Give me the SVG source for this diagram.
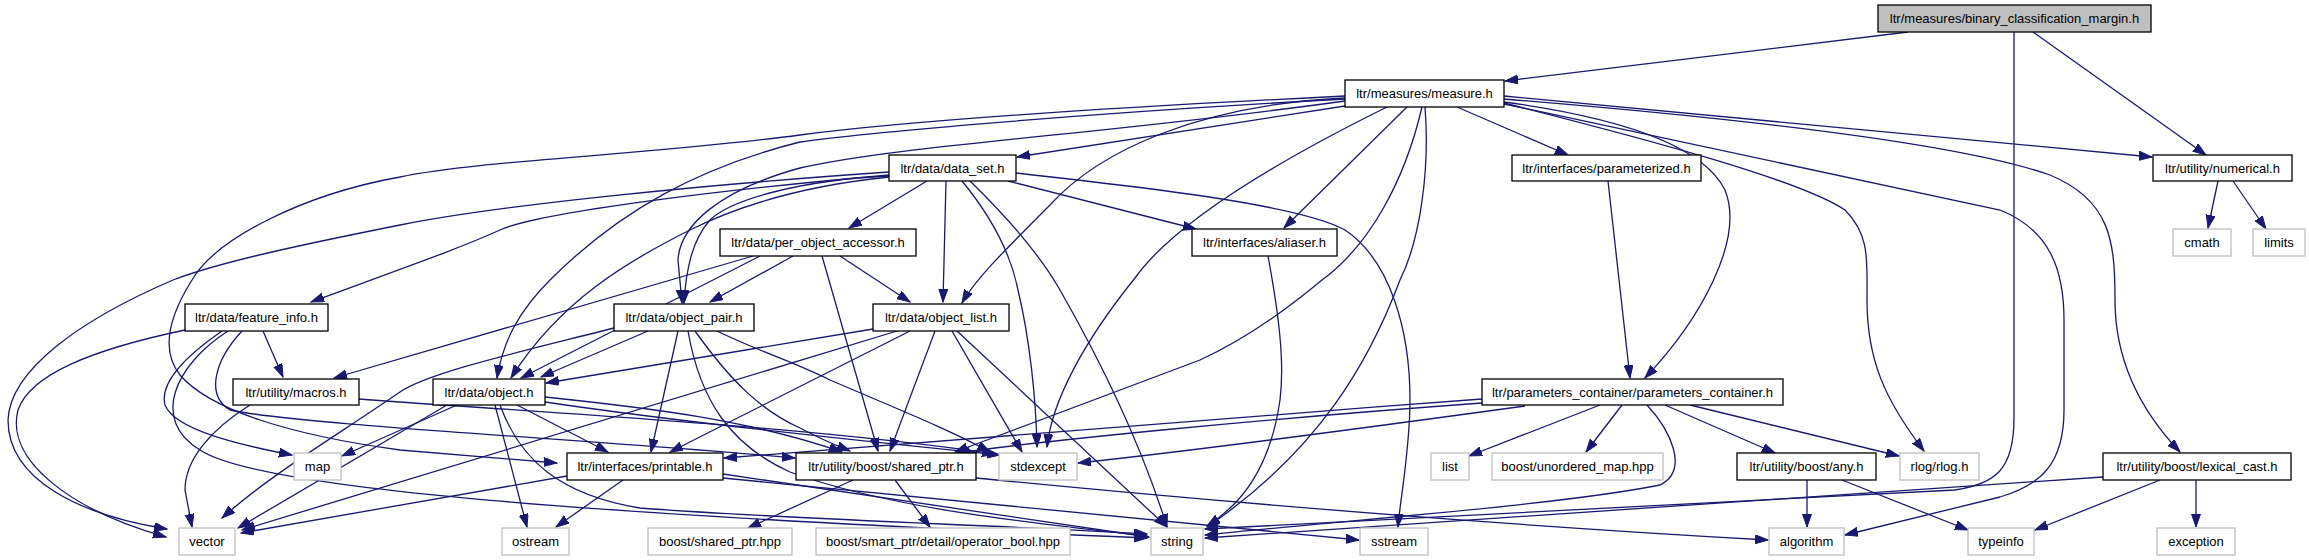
<svg xmlns="http://www.w3.org/2000/svg" width="2309" height="560" viewBox="0 0 2309 560">
<style>
.n rect{fill:#fff;stroke:#000;stroke-width:1.3}
.x rect{fill:#fff;stroke:#bfbfbf;stroke-width:1.3}
.r rect{fill:#bfbfbf;stroke:#000;stroke-width:1.3}
text{font-family:"Liberation Sans",Arial,sans-serif;font-size:13px;fill:#000;text-anchor:middle}
#edges path{fill:none;stroke:#191970;stroke-width:1.3;marker-end:url(#a)}
</style>
<defs>
<marker id="a" markerUnits="userSpaceOnUse" markerWidth="14" markerHeight="10" refX="13" refY="4.5" orient="auto" viewBox="0 0 14 10">
<path d="M0,0 L13,4.5 L0,9 z" fill="#191970" stroke="#191970" stroke-width="1"/>
</marker>
</defs>
<rect width="2309" height="560" fill="#fff"/>
<g id="edges">
<path d="M1908,32 L1505,81"/>
<path d="M2033,32 L2206,155"/>
<path d="M2014,32 L2014,418 C2014,470 1995,484 1955,490 L1205,529"/>
<path d="M1345,106 L1017,157"/>
<path d="M1345,96 C1100,108 900,122 800,135 C650,155 480,160 400,177 C300,195 215,240 192,280 C170,315 160,350 180,375 C210,410 290,435 400,450 L557,463"/>
<path d="M1345,99 C1050,115 850,135 800,142 C700,167 620,210 550,280 C520,310 503,340 497,378"/>
<path d="M1345,101 C1100,135 900,145 800,168 C720,190 680,225 678,260 L682,303"/>
<path d="M1345,98 C1200,105 1100,150 1050,205 C1000,255 975,280 962,303"/>
<path d="M1407,107 L1284,228"/>
<path d="M1422,107 C1405,180 1370,245 1322,280 C1280,315 1240,342 1200,360 L955,452"/>
<path d="M1387,107 C1300,150 1180,215 1135,278 C1085,340 1052,400 1047,447"/>
<path d="M1425,107 C1430,170 1420,240 1400,280 C1370,360 1320,450 1207,527"/>
<path d="M1457,107 L1568,155"/>
<path d="M1504,102 C1600,115 1700,140 1725,190 C1745,240 1700,320 1645,378"/>
<path d="M1504,103 C1650,140 1800,180 1845,210 C1870,235 1867,260 1867,300 C1867,360 1885,400 1924,451"/>
<path d="M1504,96 L2152,157"/>
<path d="M1504,99 C1700,115 1950,140 2050,175 C2110,200 2115,240 2115,300 C2115,360 2140,410 2180,452"/>
<path d="M1504,104 C1700,145 1900,190 2000,210 C2050,230 2064,270 2064,320 L2064,410 C2064,465 2040,485 2000,497 L1845,535"/>
<path d="M927,181 L849,228"/>
<path d="M889,175 C720,190 540,212 500,230 C460,248 420,262 311,302"/>
<path d="M889,172 C700,185 500,205 400,225 C300,245 220,262 173,280 C80,320 10,370 8,420 C8,480 80,515 167,529"/>
<path d="M889,177 C840,182 760,195 690,230 C630,260 560,300 511,378"/>
<path d="M889,176 C800,180 730,200 710,220 C692,240 686,270 684,303"/>
<path d="M946,181 L943,302"/>
<path d="M1008,181 L1196,229"/>
<path d="M1016,173 C1150,188 1300,205 1345,230 C1390,260 1410,330 1410,400 C1410,450 1400,500 1398,527"/>
<path d="M962,181 C990,215 1010,250 1018,290 C1030,340 1036,400 1037,447"/>
<path d="M970,181 C1010,220 1040,255 1060,290 C1100,360 1140,440 1167,527"/>
<path d="M793,256 L710,302"/>
<path d="M840,256 L910,302"/>
<path d="M753,256 L334,378"/>
<path d="M760,256 L521,378"/>
<path d="M822,256 L878,451"/>
<path d="M263,331 L283,377"/>
<path d="M185,330 C90,350 30,375 18,410 C5,460 70,510 166,537"/>
<path d="M222,331 C180,360 160,385 165,405 C175,430 240,445 292,455"/>
<path d="M228,331 C175,365 150,420 200,450 C260,490 600,515 1147,538"/>
<path d="M242,331 C215,360 205,395 230,410 C300,425 600,440 795,458"/>
<path d="M648,331 L541,377"/>
<path d="M614,328 C520,352 430,372 400,392 C330,440 270,475 222,518"/>
<path d="M678,331 L651,452"/>
<path d="M695,331 C730,380 760,410 800,428 C815,436 830,443 850,451"/>
<path d="M717,331 C760,352 790,360 830,380 C900,410 950,430 990,452"/>
<path d="M688,331 C700,400 730,445 790,472 C880,505 1000,520 1147,536"/>
<path d="M873,329 L546,383"/>
<path d="M897,331 L242,530"/>
<path d="M910,331 L670,452"/>
<path d="M935,331 L890,451"/>
<path d="M952,331 L1022,452"/>
<path d="M957,331 L1167,527"/>
<path d="M250,405 C210,430 185,460 185,490 L192,527"/>
<path d="M359,399 C500,410 800,425 995,454"/>
<path d="M457,405 L342,456"/>
<path d="M447,405 L238,528"/>
<path d="M495,405 L527,527"/>
<path d="M517,405 L608,452"/>
<path d="M545,397 C650,408 750,420 842,452"/>
<path d="M545,402 C700,425 900,445 1000,455"/>
<path d="M500,405 C520,460 560,495 640,508 C800,520 1000,525 1147,534"/>
<path d="M567,476 L241,533"/>
<path d="M623,480 L556,527"/>
<path d="M723,474 L1149,537"/>
<path d="M723,478 L1359,540"/>
<path d="M853,480 L748,528"/>
<path d="M895,480 L930,527"/>
<path d="M976,478 C1200,500 1500,525 1768,540"/>
<path d="M1482,399 C1200,420 900,445 724,458"/>
<path d="M1482,403 C1250,420 1050,440 957,453"/>
<path d="M1525,406 C1350,430 1200,450 1078,463"/>
<path d="M1600,405 L1469,456"/>
<path d="M1622,405 L1586,452"/>
<path d="M1647,405 C1670,430 1690,470 1660,485 C1560,505 1350,520 1205,535"/>
<path d="M1665,405 L1775,453"/>
<path d="M1690,405 L1899,456"/>
<path d="M1608,181 L1630,378"/>
<path d="M1807,480 L1807,527"/>
<path d="M1842,480 L1968,530"/>
<path d="M2160,480 L2035,530"/>
<path d="M2196,480 L2196,527"/>
<path d="M2103,477 L1205,538"/>
<path d="M2218,181 L2208,228"/>
<path d="M2233,181 L2266,229"/>
<path d="M1268,256 C1278,310 1285,360 1280,400 C1270,470 1240,505 1207,526"/>
</g>
<g id="n_binary" class="r"><rect x="1878" y="5" width="273" height="27"/><text x="2014.5" y="23">ltr/measures/binary_classification_margin.h</text></g>
<g id="n_measure" class="n"><rect x="1345" y="80" width="159" height="27"/><text x="1424.5" y="98">ltr/measures/measure.h</text></g>
<g id="n_data_set" class="n"><rect x="889" y="155" width="127" height="26"/><text x="952.5" y="173">ltr/data/data_set.h</text></g>
<g id="n_parameterized" class="n"><rect x="1512" y="155" width="189" height="26"/><text x="1606.5" y="173">ltr/interfaces/parameterized.h</text></g>
<g id="n_numerical" class="n"><rect x="2153" y="155" width="139" height="26"/><text x="2222.5" y="173">ltr/utility/numerical.h</text></g>
<g id="n_per_object_accessor" class="n"><rect x="720" y="229" width="196" height="27"/><text x="818" y="247">ltr/data/per_object_accessor.h</text></g>
<g id="n_aliaser" class="n"><rect x="1192" y="229" width="145" height="27"/><text x="1264.5" y="247">ltr/interfaces/aliaser.h</text></g>
<g id="n_cmath" class="x"><rect x="2173" y="229" width="58" height="27"/><text x="2202" y="247">cmath</text></g>
<g id="n_limits" class="x"><rect x="2253" y="229" width="52" height="27"/><text x="2279" y="247">limits</text></g>
<g id="n_feature_info" class="n"><rect x="185" y="304" width="143" height="27"/><text x="256.5" y="322">ltr/data/feature_info.h</text></g>
<g id="n_object_pair" class="n"><rect x="614" y="304" width="140" height="27"/><text x="684" y="322">ltr/data/object_pair.h</text></g>
<g id="n_object_list" class="n"><rect x="873" y="304" width="136" height="27"/><text x="941" y="322">ltr/data/object_list.h</text></g>
<g id="n_macros" class="n"><rect x="233" y="379" width="126" height="26"/><text x="296" y="397">ltr/utility/macros.h</text></g>
<g id="n_object" class="n"><rect x="433" y="379" width="112" height="26"/><text x="489" y="397">ltr/data/object.h</text></g>
<g id="n_parameters_container" class="n"><rect x="1482" y="379" width="301" height="26"/><text x="1632.5" y="397">ltr/parameters_container/parameters_container.h</text></g>
<g id="n_map" class="x"><rect x="294" y="453" width="47" height="27"/><text x="317.5" y="471">map</text></g>
<g id="n_printable" class="n"><rect x="567" y="453" width="156" height="27"/><text x="645" y="471">ltr/interfaces/printable.h</text></g>
<g id="n_shared_ptr" class="n"><rect x="796" y="453" width="180" height="27"/><text x="886" y="471">ltr/utility/boost/shared_ptr.h</text></g>
<g id="n_stdexcept" class="x"><rect x="999" y="453" width="78" height="27"/><text x="1038" y="471">stdexcept</text></g>
<g id="n_list" class="x"><rect x="1431" y="453" width="38" height="27"/><text x="1450" y="471">list</text></g>
<g id="n_unordered_map" class="x"><rect x="1492" y="453" width="171" height="27"/><text x="1577.5" y="471">boost/unordered_map.hpp</text></g>
<g id="n_any" class="n"><rect x="1737" y="453" width="139" height="27"/><text x="1806.5" y="471">ltr/utility/boost/any.h</text></g>
<g id="n_rlog" class="x"><rect x="1900" y="453" width="79" height="27"/><text x="1939.5" y="471">rlog/rlog.h</text></g>
<g id="n_lexical_cast" class="n"><rect x="2103" y="453" width="188" height="27"/><text x="2197" y="471">ltr/utility/boost/lexical_cast.h</text></g>
<g id="n_vector" class="x"><rect x="179" y="528" width="56" height="27"/><text x="207" y="546">vector</text></g>
<g id="n_ostream" class="x"><rect x="502" y="528" width="67" height="27"/><text x="535.5" y="546">ostream</text></g>
<g id="n_boost_shared_ptr" class="x"><rect x="648" y="528" width="144" height="27"/><text x="720" y="546">boost/shared_ptr.hpp</text></g>
<g id="n_operator_bool" class="x"><rect x="816" y="528" width="254" height="27"/><text x="943" y="546">boost/smart_ptr/detail/operator_bool.hpp</text></g>
<g id="n_string" class="x"><rect x="1151" y="528" width="52" height="27"/><text x="1177" y="546">string</text></g>
<g id="n_sstream" class="x"><rect x="1360" y="528" width="68" height="27"/><text x="1394" y="546">sstream</text></g>
<g id="n_algorithm" class="x"><rect x="1769" y="528" width="75" height="27"/><text x="1806.5" y="546">algorithm</text></g>
<g id="n_typeinfo" class="x"><rect x="1968" y="528" width="66" height="27"/><text x="2001" y="546">typeinfo</text></g>
<g id="n_exception" class="x"><rect x="2157" y="528" width="78" height="27"/><text x="2196" y="546">exception</text></g>
</svg>
